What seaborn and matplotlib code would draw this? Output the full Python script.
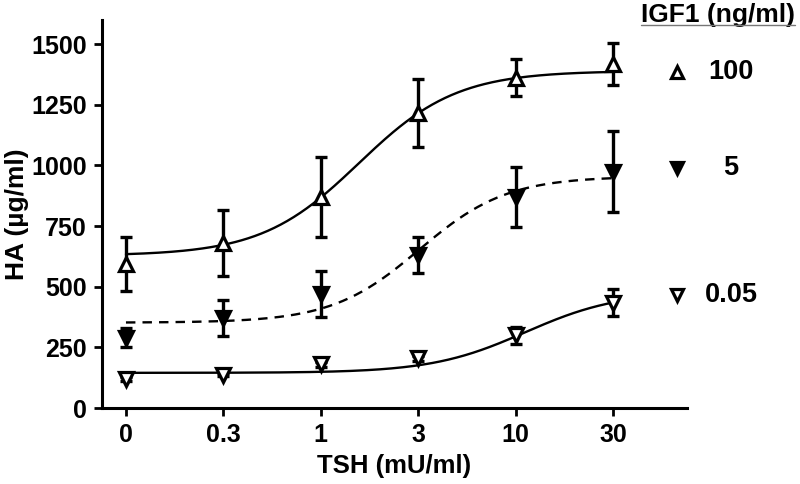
## HA production vs TSH at three IGF1 levels, with sigmoid fits
import numpy as np
import pandas as pd
import seaborn as sns
import matplotlib.pyplot as plt

# TSH doses (mU/ml), plotted on half-decade steps of a log axis
tsh_labels = ["0", "0.3", "1", "3", "10", "30"]
tsh_log = [-1.0, -0.5, 0.0, 0.5, 1.0, 1.5]

# HA (ug/ml), mean and error per IGF1 level
ha_100 = [595, 680, 870, 1215, 1362, 1418]
err_100 = [112, 135, 165, 140, 77, 88]
ha_5 = [290, 370, 470, 632, 870, 975]
err_5 = [38, 75, 93, 75, 125, 167]
ha_005 = [118, 138, 180, 205, 300, 435]
err_005 = [8, 8, 10, 10, 35, 55]

# fitted sigmoid parameters: bottom, top, log EC50, hill slope
fit_100 = [628, 1390, 0.195, 1.73]
fit_5 = [352, 955, 0.506, 1.93]
fit_005 = [145, 480, 1.05, 1.8]

def sigmoid(x, p):
    bottom, top, logec50, hill = p
    return bottom + (top - bottom) / (1 + 10 ** ((logec50 - x) * hill))

sns.set_style("ticks")
plt.rcParams['font.family'] = ['Liberation Sans', 'DejaVu Sans']
plt.rcParams['font.weight'] = 'bold'
for k in ["text.color", "axes.labelcolor", "xtick.color", "ytick.color", "axes.edgecolor"]:
    plt.rcParams[k] = "black"

fig = plt.figure(figsize=(8, 4.84), dpi=100)
ax = fig.add_axes([0.1275, 0.157, 0.7313, 0.8017])

xs = np.linspace(tsh_log[0], tsh_log[-1], 300)
curves = pd.DataFrame({
    "x": np.concatenate([xs, xs, xs]),
    "y": np.concatenate([sigmoid(xs, fit_100), sigmoid(xs, fit_5), sigmoid(xs, fit_005)]),
    "igf1": ["100"] * len(xs) + ["5"] * len(xs) + ["0.05"] * len(xs),
})
sns.lineplot(data=curves, x="x", y="y", style="igf1",
             dashes={"100": "", "5": (4, 3), "0.05": ""},
             color="black", linewidth=1.7, legend=False, ax=ax, zorder=2)

groups = [
    (ha_100, err_100, "^", "white"),
    (ha_5, err_5, "v", "black"),
    (ha_005, err_005, "v", "white"),
]
for ha, err, mk, face in groups:
    ax.errorbar(tsh_log, ha, yerr=err, fmt="none", ecolor="black",
                elinewidth=2.4, capsize=4.5, capthick=2.4, zorder=3)
    ax.plot(tsh_log, ha, linestyle="none", marker=mk, markersize=10,
            markerfacecolor=face, markeredgecolor="black", markeredgewidth=2.3, zorder=4)

ax.set_xlim(-1.123, 1.88)
ax.set_ylim(0, 1600)
ax.set_xticks(tsh_log)
ax.set_xticklabels(tsh_labels)
ax.set_yticks([0, 250, 500, 750, 1000, 1250, 1500])
ax.tick_params(labelsize=18, width=2, length=6, pad=5)
for lab in ax.get_xticklabels() + ax.get_yticklabels():
    lab.set_fontweight("bold")
ax.set_xlabel("TSH (mU/ml)", fontsize=18.5, fontweight="bold", labelpad=5)
ax.set_ylabel("HA (µg/ml)", fontsize=19, fontweight="bold")
ax.yaxis.set_label_coords(-0.124, 0.5)
sns.despine(ax=ax)
for s in ["left", "bottom"]:
    ax.spines[s].set_linewidth(2.2)

# legend drawn to the right of the curves
leg_items = [("100", "^", "white", 0.866), ("5", "v", "black", 0.619), ("0.05", "v", "white", 0.291)]
for lab, mk, face, yy in leg_items:
    ax.plot([0.983], [yy], transform=ax.transAxes, marker=mk, markersize=9, linestyle="none",
            markerfacecolor=face, markeredgecolor="black", markeredgewidth=2.3, clip_on=False)
    ax.text(1.075, yy, lab, transform=ax.transAxes, ha="center", va="center",
            fontsize=19.5, fontweight="bold")
title = ax.text(1.053, 1.013, "IGF1 (ng/ml)", transform=ax.transAxes, ha="center", va="center",
                fontsize=19, fontweight="bold")

fig.canvas.draw()
bb = title.get_window_extent().transformed(fig.transFigure.inverted())
fig.add_artist(plt.Line2D([bb.x0, bb.x1], [bb.y0 + 0.004, bb.y0 + 0.004],
                          transform=fig.transFigure, color="#777777", linewidth=1))

plt.savefig("out.png", dpi=100)
